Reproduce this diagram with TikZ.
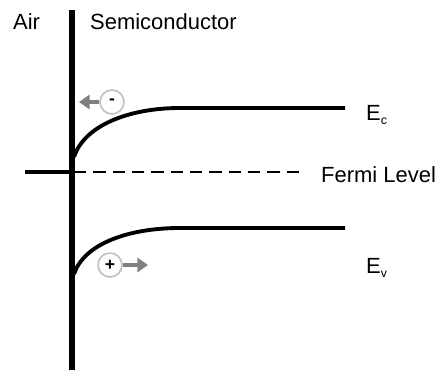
\documentclass[tikz,border=0pt]{standalone}
\usepackage{fontspec}
\setmainfont{Liberation Sans}
\usetikzlibrary{arrows.meta}

\begin{document}
\begin{tikzpicture}[x=0.02cm,y=-0.02cm,
    band/.style={line width=2.2pt},
    carrier/.style={circle,draw=gray!50,line width=0.9pt,fill=white,inner sep=0pt,minimum size=0.48cm,font=\bfseries},
    drift/.style={gray,line width=2.2pt,-{Triangle[length=6pt,width=8pt]}},
    lbl/.style={font=\fontsize{12.5}{14}\selectfont,anchor=west}]
    \useasboundingbox(0,0)rectangle(438,372);
    \draw[line width=3pt](72,10)--(72,370);
    \draw[band](25,172)--(70,172);
    \draw[line width=1.4pt,dash pattern=on 7pt off 4pt](74,172)--(300,172);
    \draw[band](74,157)..controls(84,126)and(128,108)..(180,108)--(345,108);
    \draw[band](74,274)..controls(84,244)and(128,228)..(180,228)--(345,228);
    \node[lbl](air)at(7,22){Air};
    \node[lbl](semi)at(84,22){Semiconductor};
    \node[lbl](fermi)at(315,175){Fermi Level};
    \node[lbl](ec)at(360,115){E\raisebox{-0.4ex}{\scriptsize c}};
    \node[lbl](ev)at(360,268){E\raisebox{-0.4ex}{\scriptsize v}};
    \node[carrier](el)at(112,102){-};
    \node[carrier](ho)at(110,265){+};
    \coordinate(elend)at(79,102);
    \coordinate(hoend)at(148,265);
    \draw[drift](el)--(elend);
    \draw[drift](ho)--(hoend);
  \end{tikzpicture}
\end{document}
